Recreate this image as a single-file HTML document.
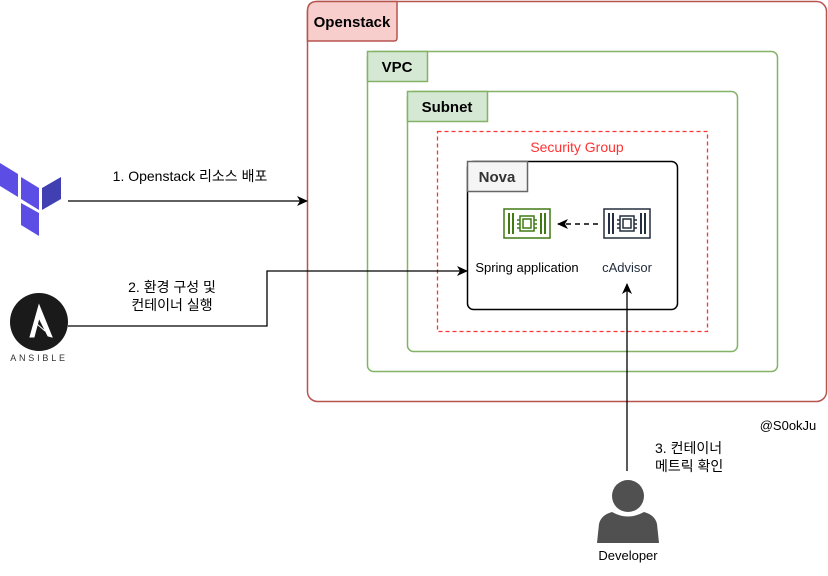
<!DOCTYPE html>
<html><head><meta charset="utf-8"><style>
html,body{margin:0;padding:0;background:#fff;}
svg text{font-family:"Liberation Sans","Noto Sans CJK KR",sans-serif;}
</style></head><body>
<svg width="828" height="571" viewBox="0 0 828 571" xmlns="http://www.w3.org/2000/svg">
<defs>
<marker id="ah" markerWidth="12" markerHeight="12" refX="10" refY="6" orient="auto" markerUnits="userSpaceOnUse">
<path d="M0,1 L11,6 L0,11 L3,6 Z" fill="#000"/></marker>
</defs>
<!-- Openstack -->
<rect x="307.5" y="1.5" width="519" height="400" rx="10" fill="#fff" stroke="#b85450" stroke-width="1.5"/>
<path d="M307.5,41 L307.5,11 Q307.5,1.5 317,1.5 L397,1.5 L397,38 Q397,41 394,41 Z" fill="#f8cecc" stroke="#b85450" stroke-width="1.5"/>
<text x="352" y="27" font-size="15" font-weight="bold" text-anchor="middle">Openstack</text>
<!-- VPC -->
<rect x="367.5" y="51.5" width="410" height="320" rx="6" fill="none" stroke="#82b366" stroke-width="1.5"/>
<rect x="367.5" y="51.5" width="60" height="30" fill="#d5e8d4" stroke="#82b366" stroke-width="1.5"/>
<text x="397" y="72" font-size="15" font-weight="bold" text-anchor="middle">VPC</text>
<!-- Subnet -->
<rect x="407.5" y="91.5" width="330" height="260" rx="6" fill="none" stroke="#82b366" stroke-width="1.5"/>
<rect x="407.5" y="91.5" width="80" height="30" fill="#d5e8d4" stroke="#82b366" stroke-width="1.5"/>
<text x="447" y="112" font-size="15" font-weight="bold" text-anchor="middle">Subnet</text>
<!-- Security Group -->
<rect x="437.5" y="131.5" width="270" height="200" fill="none" stroke="#ff3333" stroke-width="1.3" stroke-dasharray="4,3"/>
<text x="577" y="152" font-size="14" fill="#ff3333" text-anchor="middle">Security Group</text>
<!-- Nova -->
<rect x="467.5" y="161.5" width="210" height="148" rx="6" fill="#fff" stroke="#000" stroke-width="1.5"/>
<rect x="467.5" y="161.5" width="60" height="30" fill="#f5f5f5" stroke="#666" stroke-width="1.5"/>
<text x="497" y="182" font-size="15" font-weight="bold" text-anchor="middle" fill="#333">Nova</text>
<!-- chips -->
<g stroke="#3f7a12" fill="none" stroke-width="1.5">
<rect x="504" y="209" width="46" height="29"/>
<path d="M509,213v21M513,213v21M541,213v21M545,213v21" stroke-width="2"/>
<rect x="520" y="216" width="14" height="15"/><rect x="523" y="219" width="8" height="9"/>
<path d="M517,220h3M517,224h3M517,228h3M534,220h3M534,224h3M534,228h3"/>
</g>
<g stroke="#232f3e" fill="none" stroke-width="1.5">
<rect x="604" y="209" width="46" height="29"/>
<path d="M609,213v21M613,213v21M641,213v21M645,213v21" stroke-width="2"/>
<rect x="620" y="216" width="14" height="15"/><rect x="623" y="219" width="8" height="9"/>
<path d="M617,220h3M617,224h3M617,228h3M634,220h3M634,224h3M634,228h3"/>
</g>
<line x1="598" y1="224" x2="558" y2="224" stroke="#000" stroke-width="1.5" stroke-dasharray="5,4" marker-end="url(#ah)"/>
<text x="527" y="272" font-size="13" text-anchor="middle">Spring application</text>
<text x="627" y="272" font-size="13" text-anchor="middle" fill="#232f3e">cAdvisor</text>
<!-- terraform -->
<g fill="#5c4ee5">
<path d="M0,163 L18,174 L18,197 L0,186 Z"/>
<path d="M21,177 L39,188 L39,210 L21,199 Z"/>
<path d="M21,203 L39,213 L39,236 L21,225 Z"/>
<path d="M42,188 L61,177 L61,199 L42,210 Z" fill="#4040b2"/>
</g>
<line x1="68" y1="201" x2="307" y2="201" stroke="#000" stroke-width="1.3" marker-end="url(#ah)"/>
<text x="190" y="181" font-size="14" text-anchor="middle">1. Openstack 리소스 배포</text>
<!-- ansible -->
<circle cx="39" cy="322" r="29" fill="#1a1a1a"/>
<path d="M39,305 L30,337 L34,337 L39,318 L48,336 L52,337 Z M37,324 L45,331" fill="#fff" stroke="#fff" stroke-width="1"/>
<text x="39" y="361" font-size="9" text-anchor="middle" letter-spacing="2.8" fill="#333">ANSIBLE</text>
<polyline points="68,326 267,326 267,271 467,271" fill="none" stroke="#000" stroke-width="1.3" marker-end="url(#ah)"/>
<text x="172" y="292" font-size="14" text-anchor="middle">2. 환경 구성 및</text>
<text x="172" y="310" font-size="14" text-anchor="middle">컨테이너 실행</text>
<!-- developer -->
<line x1="627" y1="471" x2="627" y2="284" stroke="#000" stroke-width="1.3" marker-end="url(#ah)"/>
<text x="655" y="453" font-size="14">3. 컨테이너</text>
<text x="655" y="471" font-size="14">메트릭 확인</text>
<circle cx="628" cy="496" r="16" fill="#505050"/>
<path d="M597,543 L599,524 Q601,515 612,512 Q628,521 644,512 Q655,515 657,524 L659,543 Z" fill="#505050"/>
<text x="628" y="560" font-size="13" text-anchor="middle">Developer</text>
<text x="788" y="430" font-size="13" text-anchor="middle">@S0okJu</text>
</svg>
</body></html>
